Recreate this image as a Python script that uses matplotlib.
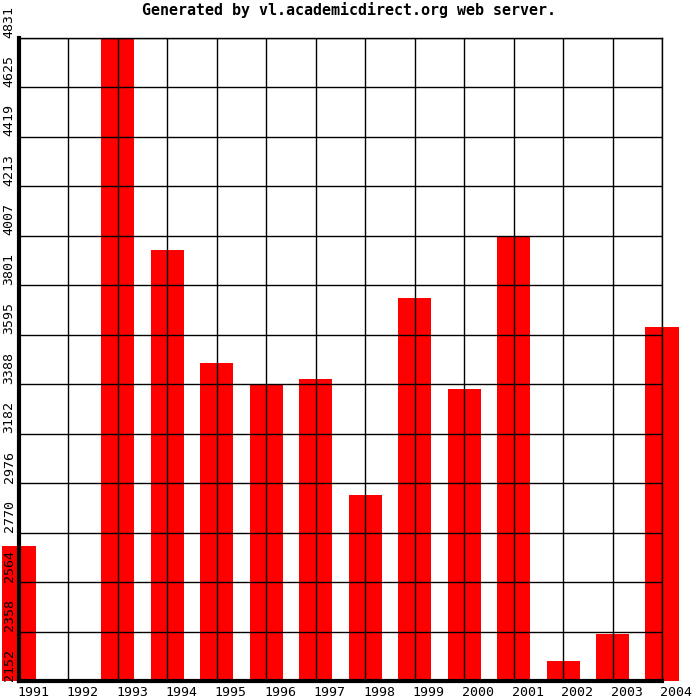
import matplotlib
matplotlib.use('Agg')
import matplotlib.pyplot as plt
import matplotlib.transforms as mtransforms

years = ['1991', '1992', '1993', '1994', '1995', '1996', '1997',
         '1998', '1999', '2000', '2001', '2002', '2003', '2004']
values = [2714, 2152, 4831, 3948, 3477, 3389, 3410,
          2927, 3748, 3369, 4006, 2236, 2349, 3627]
ytick_labels = ['2152', '2358', '2564', '2770', '2976', '3182', '3388',
                '3595', '3801', '4007', '4213', '4419', '4625', '4831']

ymin, ymax = 2152, 4831
fnt = 'DejaVu Sans Mono'

fig = plt.figure(figsize=(7, 7), dpi=100)
ax = fig.add_axes([19/700, 19/700, 643/700, 643/700])

x = list(range(len(years)))
ax.bar(x, [v - ymin for v in values], bottom=ymin, width=0.67,
       color='#ff0000', zorder=1, clip_on=False)

ax.set_xlim(0, len(years) - 1)
ax.set_ylim(ymin, ymax)
step = (ymax - ymin) / (len(ytick_labels) - 1)
yt = [ymin + i * step for i in range(len(ytick_labels))]
ax.set_xticks(x)
ax.set_yticks(yt)
ax.set_xticklabels([])
ax.set_yticklabels([])
ax.tick_params(length=0)
ax.set_axisbelow(False)
ax.grid(True, color='black', linewidth=1)

for s in ['top', 'right']:
    ax.spines[s].set_linewidth(1)
for s in ['left', 'bottom']:
    ax.spines[s].set_linewidth(3)
    ax.spines[s].set_zorder(5)

# y labels, rotated, sitting just above each gridline
ty = mtransforms.blended_transform_factory(ax.transAxes, ax.transData)
for v, lab in zip(yt, ytick_labels):
    ax.text(-10/643, v + 2, lab, transform=ty, rotation=90, ha='center',
            va='bottom', fontsize=9.5, family=fnt)

# x labels start at each gridline
tx = mtransforms.blended_transform_factory(ax.transData, ax.transAxes)
for i, lab in enumerate(years):
    ax.text(i - 0.04, -12/643, lab, transform=tx, ha='left', va='center',
            fontsize=9.5, family=fnt)

fig.text(349/700, 1 - 10/700, 'Generated by vl.academicdirect.org web server.',
         ha='center', va='center', fontsize=10.8, fontweight='bold', family=fnt)

fig.savefig('out.png', dpi=100, facecolor='white')
